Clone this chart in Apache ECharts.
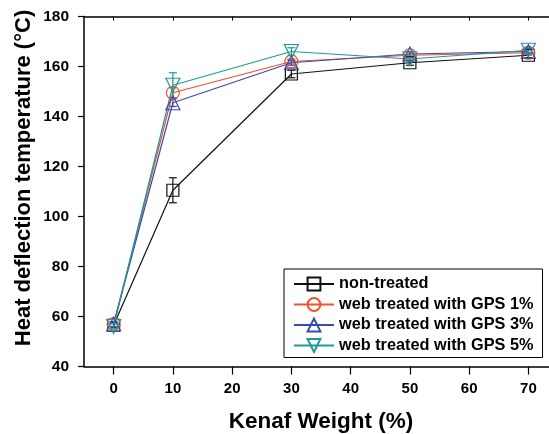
<!DOCTYPE html>
<html>
<head>
<meta charset="utf-8">
<script src="https://cdn.jsdelivr.net/npm/echarts@6/dist/echarts.min.js"></script>
<style>
  html, body { margin: 0; padding: 0; background: #fff; }
  #main { width: 549px; height: 434px; }
</style>
</head>
<body>
<div id="main"></div>
<script>
// kenaf weight (%)
var weights = [0, 10, 30, 50, 70];
var xTicks = [0, 10, 20, 30, 40, 50, 60, 70];

var names = ['non-treated', 'web treated with GPS 1%', 'web treated with GPS 3%', 'web treated with GPS 5%'];
var colors = ['#111111', '#f0522a', '#3a4bb0', '#1d9b97'];

// HDT values (°C)
var nonTreated = [56.5, 110.5, 157, 161.5, 164.5];
var gps1 = [57, 149.5, 162, 164.5, 165.5];
var gps3 = [57, 145.5, 161.5, 165, 166];
var gps5 = [56, 152.5, 166, 163, 166.5];

// error bar half widths
var errNon = [1, 5, 1.5, 1, 1];
var err1 = [1, 2, 1, 1, 1];
var err3 = [1, 1.5, 1, 1, 1];
var err5 = [1, 5, 1.5, 1, 1];

var values = [nonTreated, gps1, gps3, gps5];
var errs = [errNon, err1, err3, err5];
var symbols = ['rect', 'circle', 'triangle', 'path://M0,0 L10,0 L5,9 Z'];
var sizes = [12, 13, 14, 14];

var chart = echarts.init(document.getElementById('main'));

var series = [];
values.forEach(function (vals, i) {
  // error bars
  series.push({
    type: 'custom',
    silent: true,
    z: 2,
    data: vals.map(function (v, k) { return [weights[k], v, errs[i][k]]; }),
    renderItem: function (params, api) {
      var x = api.value(0), y = api.value(1), e = api.value(2);
      var hi = api.coord([x, y + e]);
      var lo = api.coord([x, y - e]);
      var w = 4;
      var st = { stroke: colors[i], lineWidth: 1.2 };
      return {
        type: 'group',
        children: [
          { type: 'line', shape: { x1: hi[0], y1: hi[1], x2: lo[0], y2: lo[1] }, style: st },
          { type: 'line', shape: { x1: hi[0] - w, y1: hi[1], x2: hi[0] + w, y2: hi[1] }, style: st },
          { type: 'line', shape: { x1: lo[0] - w, y1: lo[1], x2: lo[0] + w, y2: lo[1] }, style: st }
        ]
      };
    }
  });
  series.push({
    name: names[i],
    type: 'line',
    z: 3,
    data: vals.map(function (v, k) { return [weights[k], v]; }),
    symbol: symbols[i],
    symbolSize: sizes[i],
    showAllSymbol: true,
    lineStyle: { color: colors[i], width: 1.2 },
    itemStyle: { color: 'rgba(255,255,255,0)', borderColor: colors[i], borderWidth: 1.2 },
    emphasis: { disabled: true }
  });
});

var bold = { fontFamily: 'Liberation Sans, Arial, sans-serif', fontWeight: 'bold', color: '#000' };

chart.setOption({
  animation: false,
  backgroundColor: '#fff',
  grid: { left: 84, top: 16.5, width: 474, height: 350, outerBoundsMode: 'none', containLabel: false },
  legend: {
    data: names,
    orient: 'vertical',
    left: 284,
    top: 269,
    padding: [7, 9, 4, 9],
    itemWidth: 40,
    itemHeight: 16,
    itemGap: 4.5,
    borderColor: '#000',
    borderWidth: 1,
    backgroundColor: '#fff',
    textStyle: Object.assign({ fontSize: 16.3 }, bold)
  },
  xAxis: [{
    type: 'value',
    min: -5,
    max: 75,
    position: 'bottom',
    name: 'Kenaf Weight (%)',
    nameLocation: 'middle',
    nameGap: 44,
    nameTextStyle: Object.assign({ fontSize: 22.5 }, bold),
    axisLine: { onZero: false, lineStyle: { color: '#000', width: 1.5 } },
    axisTick: { length: 8, lineStyle: { color: '#000', width: 1.2 }, customValues: xTicks },
    axisLabel: Object.assign({ fontSize: 15, margin: 14.5, customValues: xTicks }, bold),
    splitLine: { show: false }
  }, {
    type: 'value',
    min: -5,
    max: 75,
    position: 'top',
    axisLine: { onZero: false, lineStyle: { color: '#000', width: 1.5 } },
    axisTick: { inside: true, length: 4, lineStyle: { color: '#000', width: 1 }, customValues: xTicks },
    axisLabel: { show: false },
    splitLine: { show: false }
  }],
  yAxis: {
    type: 'value',
    min: 40,
    max: 180,
    interval: 20,
    position: 'left',
    axisLine: { show: true, onZero: false, lineStyle: { color: '#000', width: 1.5 } },
    axisTick: { show: true, length: 6, lineStyle: { color: '#000', width: 1.2 } },
    axisLabel: Object.assign({ fontSize: 15.5, margin: 15 }, bold),
    splitLine: { show: false }
  },
  graphic: [{
    type: 'text',
    x: 24,
    y: 178,
    rotation: Math.PI / 2,
    style: {
      text: 'Heat deflection temperature (°C)',
      fontSize: 22,
      fontFamily: bold.fontFamily,
      fontWeight: 'bold',
      align: 'center',
      verticalAlign: 'middle',
      fill: '#000'
    }
  }],
  series: series
});
</script>
</body>
</html>
